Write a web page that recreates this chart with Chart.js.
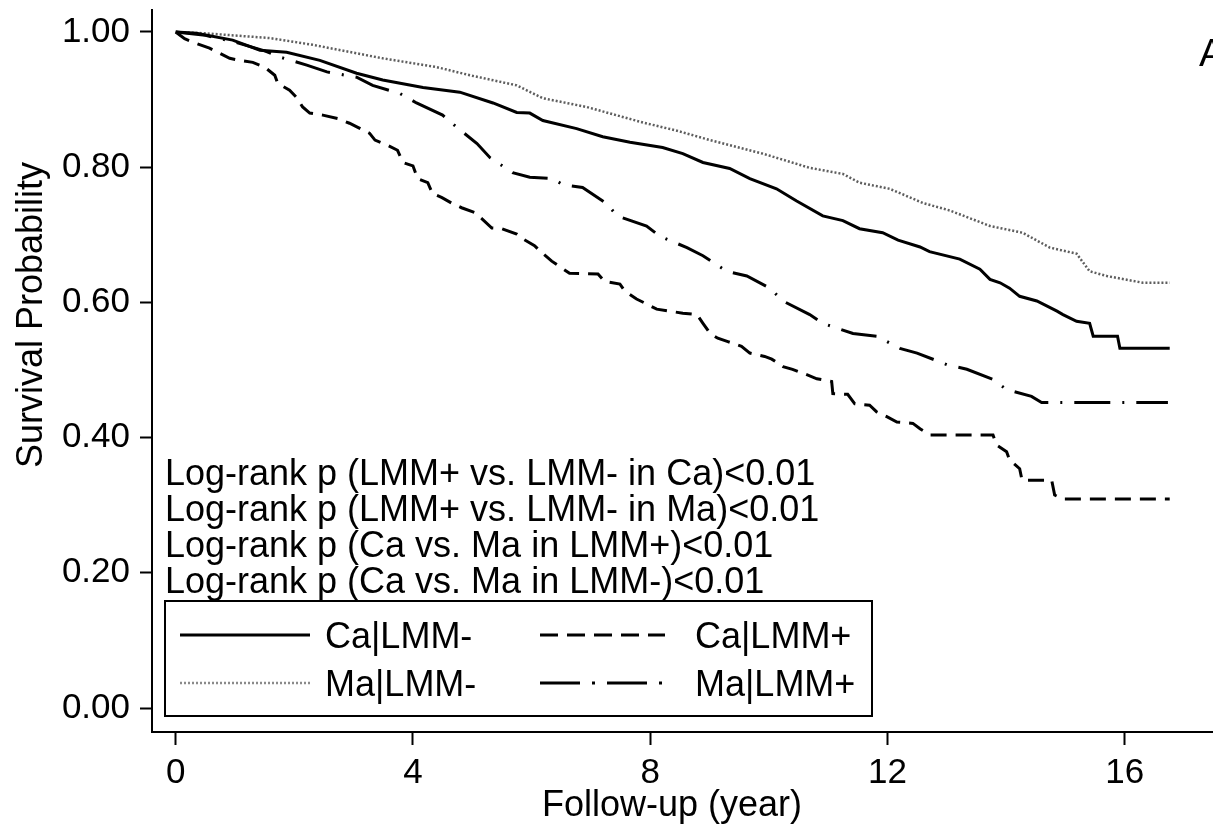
<!DOCTYPE html>
<html>
<head>
<meta charset="utf-8">
<script src="https://cdn.jsdelivr.net/npm/chart.js@4.4.0/dist/chart.umd.min.js"></script>
<style>
html,body{margin:0;padding:0;background:#fff;}
#wrap{width:1213px;height:832px;}
</style>
</head>
<body>
<div id="wrap"><canvas id="c" width="1213" height="832"></canvas></div>
<script>
const FONT = '"Liberation Sans", Arial, Helvetica, sans-serif';

// ---- axes / labels ----
const xTicks = [0, 4, 8, 12, 16];
const yTicks = [0, 0.2, 0.4, 0.6, 0.8, 1.0];
const xTitle = 'Follow-up (year)';
const yTitle = 'Survival Probability';
const panelLabel = 'A';
const pvalueLines = [
  'Log-rank p (LMM+ vs. LMM- in Ca)<0.01',
  'Log-rank p (LMM+ vs. LMM- in Ma)<0.01',
  'Log-rank p (Ca vs. Ma in LMM+)<0.01',
  'Log-rank p (Ca vs. Ma in LMM-)<0.01'
];
const seriesNames = ['Ca|LMM-', 'Ca|LMM+', 'Ma|LMM-', 'Ma|LMM+'];

// ---- Ca|LMM- (solid) ----
const caNegT = [0, 0.35, 0.96, 1.42, 1.87, 2.43, 3.05, 3.49, 4.17, 4.79, 5.35, 5.75, 5.97, 6.19, 6.76, 7.20, 7.66, 8.21, 8.55, 8.89, 9.34, 9.68, 10.13, 10.47, 10.91, 11.25, 11.53, 11.92, 12.18, 12.55, 12.71, 13.22, 13.56, 13.73, 13.90, 14.06, 14.23, 14.52, 14.86, 14.96, 15.19, 15.41, 15.47, 15.88, 15.92, 16.76];
const caNegS = [1.0, 0.998, 0.988, 0.973, 0.970, 0.958, 0.939, 0.929, 0.918, 0.911, 0.895, 0.881, 0.880, 0.869, 0.857, 0.845, 0.837, 0.829, 0.820, 0.807, 0.798, 0.783, 0.768, 0.750, 0.728, 0.721, 0.709, 0.703, 0.692, 0.682, 0.675, 0.664, 0.649, 0.634, 0.629, 0.621, 0.609, 0.602, 0.587, 0.582, 0.572, 0.569, 0.550, 0.550, 0.532, 0.532];

// ---- Ma|LMM- (dotted) ----
const maNegT = [0, 0.5, 1.585, 2.31, 3.49, 4.40, 4.96, 5.75, 6.19, 6.93, 7.88, 8.45, 9.01, 9.90, 10.69, 11.25, 11.53, 12.04, 12.60, 13.05, 13.73, 14.28, 14.74, 15.19, 15.41, 15.70, 16.31, 16.76];
const maNegS = [1.0, 0.998, 0.991, 0.981, 0.961, 0.948, 0.936, 0.921, 0.902, 0.889, 0.866, 0.854, 0.840, 0.820, 0.799, 0.790, 0.777, 0.768, 0.747, 0.736, 0.713, 0.703, 0.681, 0.672, 0.646, 0.639, 0.629, 0.629];

// ---- Ma|LMM+ (dash-dot) ----
const maPosT = [0, 0.5, 1.0, 1.5, 1.75, 2.21, 2.55, 3.05, 3.32, 3.78, 4.06, 4.50, 4.74, 5.08, 5.30, 5.68, 5.97, 6.36, 6.53, 6.86, 7.27, 7.44, 7.94, 8.16, 8.62, 8.89, 9.29, 9.63, 10.02, 10.24, 10.69, 10.91, 11.42, 11.82, 12.21, 12.50, 13.00, 13.34, 13.78, 14.01, 14.43, 14.60, 16.73];
const maPosS = [1.0, 0.995, 0.985, 0.972, 0.963, 0.951, 0.941, 0.933, 0.921, 0.909, 0.895, 0.877, 0.859, 0.835, 0.814, 0.792, 0.785, 0.783, 0.774, 0.770, 0.746, 0.728, 0.713, 0.698, 0.681, 0.669, 0.646, 0.639, 0.621, 0.602, 0.582, 0.569, 0.554, 0.550, 0.532, 0.525, 0.508, 0.501, 0.486, 0.471, 0.461, 0.452, 0.452];

// ---- Ca|LMM+ (dashed) ----
const caPosT = [0, 0.15, 0.32, 0.57, 0.71, 0.91, 1.08, 1.30, 1.50, 1.67, 1.72, 1.92, 2.04, 2.14, 2.26, 2.48, 2.73, 2.93, 3.07, 3.27, 3.36, 3.58, 3.74, 3.83, 4.00, 4.08, 4.25, 4.33, 4.49, 4.67, 4.82, 5.04, 5.16, 5.33, 5.50, 5.75, 5.85, 6.05, 6.14, 6.34, 6.64, 7.12, 7.23, 7.49, 7.57, 7.77, 7.91, 8.11, 8.55, 8.79, 8.89, 9.01, 9.14, 9.31, 9.54, 9.68, 9.93, 10.05, 10.24, 10.40, 10.64, 10.81, 11.06, 11.08, 11.33, 11.45, 11.70, 11.82, 11.99, 12.16, 12.43, 12.55, 12.72, 13.78, 13.84, 14.01, 14.06, 14.23, 14.27, 14.77, 14.82, 14.96, 16.76];
const caPosS = [1.0, 0.990, 0.984, 0.976, 0.970, 0.961, 0.958, 0.955, 0.948, 0.936, 0.924, 0.914, 0.903, 0.889, 0.880, 0.877, 0.872, 0.865, 0.859, 0.850, 0.840, 0.832, 0.825, 0.807, 0.802, 0.783, 0.777, 0.761, 0.755, 0.746, 0.740, 0.733, 0.724, 0.710, 0.709, 0.701, 0.694, 0.684, 0.676, 0.661, 0.643, 0.642, 0.631, 0.627, 0.617, 0.605, 0.599, 0.590, 0.584, 0.582, 0.569, 0.554, 0.547, 0.542, 0.535, 0.525, 0.520, 0.516, 0.505, 0.501, 0.493, 0.487, 0.483, 0.465, 0.464, 0.450, 0.448, 0.438, 0.431, 0.423, 0.421, 0.413, 0.404, 0.404, 0.389, 0.379, 0.367, 0.354, 0.337, 0.337, 0.315, 0.309, 0.309];

const toPts = (t, s) => t.map((v, i) => ({ x: v, y: s[i] }));

const STYLE = {
  'Ca|LMM-': { color: '#000000', width: 3, dash: [] },
  'Ca|LMM+': { color: '#000000', width: 3, dash: [16, 9] },
  'Ma|LMM-': { color: '#5e5e5e', width: 2.5, dash: [2, 2] },
  'Ma|LMM+': { color: '#000000', width: 3, dash: [36, 12, 2, 12] }
};
const LEGEND_DASH = { 'Ca|LMM-': [], 'Ca|LMM+': [18, 9], 'Ma|LMM-': [2, 2], 'Ma|LMM+': [40, 12, 3, 12] };

function ds(name, t, s) {
  const st = STYLE[name];
  return {
    label: name, data: toPts(t, s), borderColor: st.color, borderWidth: st.width,
    borderDash: st.dash, borderCapStyle: 'butt', borderJoinStyle: 'miter',
    pointRadius: 0, fill: false, tension: 0
  };
}

const annot = {
  id: 'annot',
  afterDraw(chart) {
    const c = chart.ctx;
    c.save();
    c.fillStyle = '#000';
    // y title
    c.font = '36px ' + FONT;
    c.save();
    c.translate(42, 315);
    c.rotate(-Math.PI / 2);
    c.textAlign = 'center';
    c.textBaseline = 'alphabetic';
    c.fillText(yTitle, 0, 0);
    c.restore();
    // x title
    c.textAlign = 'center';
    c.textBaseline = 'alphabetic';
    c.fillText(xTitle, 672, 816);
    // p-value lines
    c.font = '36px ' + FONT;
    c.textAlign = 'left';
    const base = [485, 521, 557, 593];
    pvalueLines.forEach((l, i) => c.fillText(l, 165, base[i]));
    // legend box
    c.lineWidth = 2;
    c.strokeStyle = '#000';
    c.setLineDash([]);
    c.strokeRect(165, 601, 707, 115);
    const items = [
      { name: 'Ca|LMM-', x0: 180, x1: 310, tx: 325, y: 635 },
      { name: 'Ca|LMM+', x0: 540, x1: 665, tx: 695, y: 635 },
      { name: 'Ma|LMM-', x0: 180, x1: 310, tx: 325, y: 683 },
      { name: 'Ma|LMM+', x0: 540, x1: 665, tx: 695, y: 683 }
    ];
    items.forEach(it => {
      const st = STYLE[it.name];
      c.beginPath();
      c.strokeStyle = it.name === 'Ma|LMM-' ? '#8a8a8a' : st.color;
      c.lineWidth = st.width;
      c.lineCap = 'butt';
      c.setLineDash(LEGEND_DASH[it.name]);
      c.moveTo(it.x0, it.y);
      c.lineTo(it.x1, it.y);
      c.stroke();
      c.setLineDash([]);
      c.fillStyle = '#000';
      c.fillText(it.name, it.tx, it.y + 13);
    });
    // panel label
    c.font = '39px ' + FONT;
    c.textAlign = 'left';
    c.fillText(panelLabel, 1199, 66);
    c.restore();
  }
};

function noPad(s) { s.paddingTop = 0; s.paddingBottom = 0; s.paddingLeft = 0; s.paddingRight = 0; }

new Chart(document.getElementById('c').getContext('2d'), {
  type: 'line',
  data: {
    datasets: [
      ds('Ca|LMM-', caNegT, caNegS),
      ds('Ma|LMM-', maNegT, maNegS),
      ds('Ma|LMM+', maPosT, maPosS),
      ds('Ca|LMM+', caPosT, caPosS)
    ]
  },
  options: {
    responsive: false,
    animation: false,
    devicePixelRatio: 1,
    layout: { padding: { top: 10, right: 0, left: 0, bottom: 0 } },
    plugins: { legend: { display: false }, tooltip: { enabled: false }, title: { display: false } },
    scales: {
      x: {
        type: 'linear', min: -0.4, max: 17.49,
        afterBuildTicks: s => { s.ticks = xTicks.map(v => ({ value: v })); },
        afterFit: s => { s.height = 100; noPad(s); },
        ticks: { font: { family: FONT, size: 35 }, color: '#000', padding: 7, autoSkip: false, maxRotation: 0, callback: v => String(v) },
        grid: { display: true, drawOnChartArea: false, drawTicks: true, tickLength: 13, tickColor: '#000', tickWidth: 2, color: '#000' },
        border: { display: true, color: '#000', width: 2 }
      },
      y: {
        type: 'linear', min: -0.0355, max: 1.0325,
        afterBuildTicks: s => { s.ticks = yTicks.map(v => ({ value: v })); },
        afterFit: s => { s.width = 152; noPad(s); },
        ticks: { font: { family: FONT, size: 35 }, color: '#000', padding: 10, autoSkip: false, callback: v => Number(v).toFixed(2) },
        grid: { display: true, drawOnChartArea: false, drawTicks: true, tickLength: 12, tickColor: '#000', tickWidth: 2, color: '#000' },
        border: { display: true, color: '#000', width: 2 }
      }
    }
  },
  plugins: [annot]
});
</script>
</body>
</html>
